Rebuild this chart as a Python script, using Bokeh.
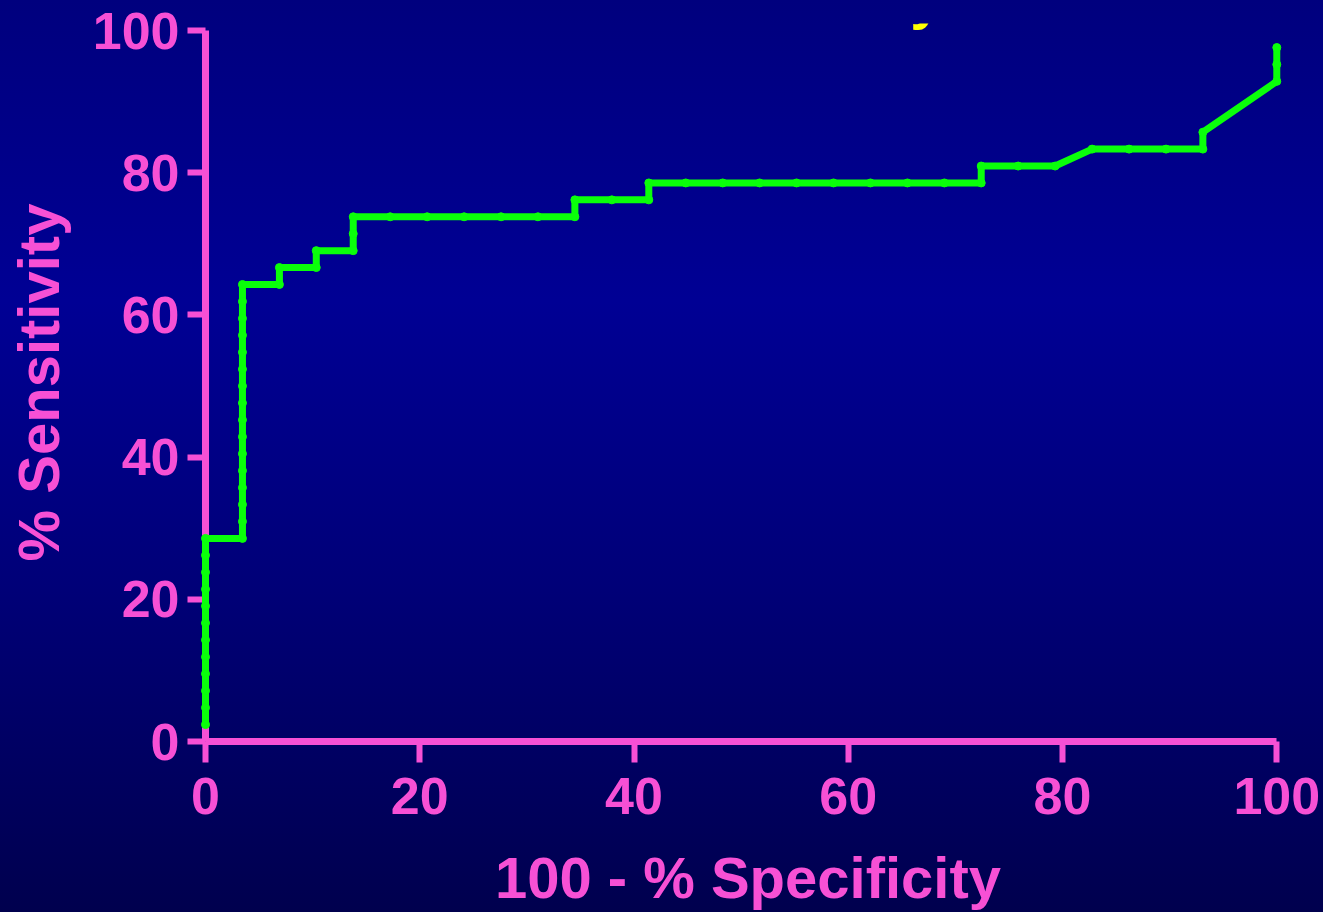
from bokeh.plotting import figure
from bokeh.models import Range1d, Label, FixedTicker
from bokeh.embed import file_html
from bokeh.resources import INLINE

# ROC curve points: 100 - % specificity vs % sensitivity
fpr = [0.0, 0.0, 0.0, 0.0, 0.0, 0.0, 0.0, 0.0, 0.0, 0.0, 0.0, 0.0,
       3.45, 3.45, 3.45, 3.45, 3.45, 3.45, 3.45, 3.45, 3.45, 3.45, 3.45, 3.45,
       3.45, 3.45, 3.45, 3.45,
       6.90, 6.90,
       10.34, 10.34,
       13.79, 13.79, 13.79,
       17.24, 20.69, 24.14, 27.59, 31.03, 34.48,
       34.48, 37.93, 41.38,
       41.38, 44.83, 48.28, 51.72, 55.17, 58.62, 62.07, 65.52, 68.97, 72.41,
       72.41, 75.86, 79.31,
       82.76, 86.21, 89.66, 93.10,
       93.10,
       100.0, 100.0, 100.0]
sens = [2.38, 4.76, 7.14, 9.52, 11.90, 14.29, 16.67, 19.05, 21.43, 23.81, 26.19, 28.57,
        28.57, 30.95, 33.33, 35.71, 38.10, 40.48, 42.86, 45.24, 47.62, 50.00, 52.38, 54.76,
        57.14, 59.52, 61.90, 64.29,
        64.29, 66.67,
        66.67, 69.05,
        69.05, 71.43, 73.81,
        73.81, 73.81, 73.81, 73.81, 73.81, 73.81,
        76.19, 76.19, 76.19,
        78.57, 78.57, 78.57, 78.57, 78.57, 78.57, 78.57, 78.57, 78.57, 78.57,
        80.95, 80.95, 80.95,
        83.33, 83.33, 83.33, 83.33,
        85.71,
        92.86, 95.24, 97.62]
ticks = [0, 20, 40, 60, 80, 100]
x_title = "100 - % Specificity"
y_title = "% Sensitivity"

PINK = "#F750D5"
GREEN = "#0AFF0A"
FONT = "Liberation Sans"

p = figure(width=1323, height=912, output_backend="svg", toolbar_location=None,
           x_range=Range1d(0, 101.28), y_range=Range1d(0, 101),
           min_border_left=205, min_border_right=33, min_border_top=23,
           min_border_bottom=169)
p.background_fill_alpha = 0
p.border_fill_alpha = 0
p.outline_line_color = None
p.grid.visible = False
p.styles = {"background": "linear-gradient(to bottom, #00007E 0%, #000094 33%, "
                          "#000078 64%, #00004E 100%)"}

for ax in (p.xaxis[0], p.yaxis[0]):
    ax.ticker = FixedTicker(ticks=ticks)
    ax.bounds = (0, 100)
    ax.minor_tick_line_color = None
    ax.axis_line_color = PINK
    ax.axis_line_width = 7
    ax.major_tick_line_color = PINK
    ax.major_tick_line_width = 6
    ax.major_tick_in = 0
    ax.major_label_text_color = PINK
    ax.major_label_text_font = FONT
    ax.major_label_text_font_style = "bold"
    ax.major_label_text_font_size = "52px"
    ax.axis_label_text_color = PINK
    ax.axis_label_text_font = FONT
    ax.axis_label_text_font_style = "bold"
    ax.axis_label_text_font_size = "58px"

p.xaxis.axis_label = x_title
p.yaxis.axis_label = y_title
p.xaxis.major_tick_out = 21
p.xaxis.major_label_standoff = 15
p.xaxis.axis_label_standoff = 28
p.yaxis.major_tick_out = 18
p.yaxis.major_label_standoff = 8
p.yaxis.axis_label_standoff = 19

roc_line = p.line(fpr, sens, line_color=GREEN, line_width=7, line_join="round")
roc_pts = p.scatter(fpr, sens, size=8, color=GREEN)
roc_line.level = "overlay"
roc_pts.level = "overlay"

# descender of the (cut off) yellow title
p.add_layout(Label(x=67.3, y=104.6, text="y", text_color="#FFFF00",
                   text_font=FONT, text_font_style="bold", text_font_size="58px",
                   text_align="center", text_baseline="alphabetic"))

open("out.html", "w").write(file_html(p, INLINE))
